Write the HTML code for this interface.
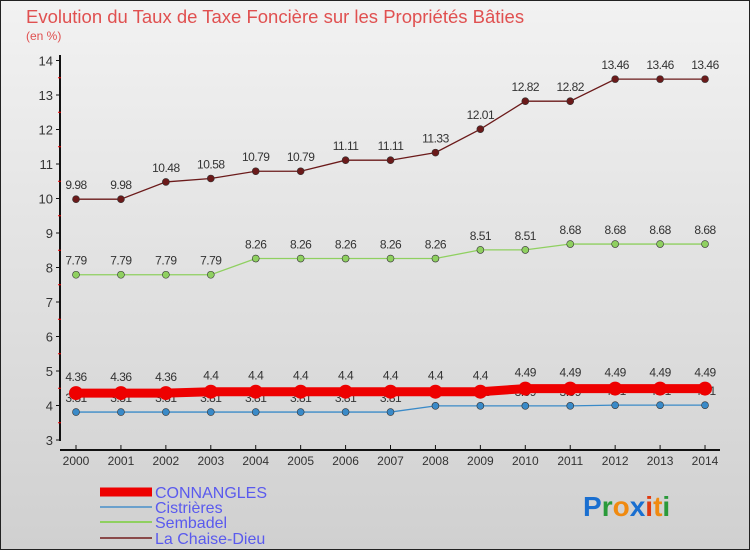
<!DOCTYPE html>
<html><head><meta charset="utf-8"><style>
body{margin:0}
svg{display:block;font-family:"Liberation Sans",sans-serif}
</style></head><body>
<svg id="c" width="750" height="550" viewBox="0 0 750 550">
<defs><linearGradient id="bg" x1="0" y1="0" x2="0" y2="1"><stop offset="0" stop-color="#f2f2f2"/><stop offset="1" stop-color="#d0d0d0"/></linearGradient></defs>
<rect x="0.5" y="0.5" width="749" height="549" fill="url(#bg)" stroke="#222"/>
<text x="26" y="23" font-size="18.5" fill="#e05050">Evolution du Taux de Taxe Foncière sur les Propriétés Bâties</text>
<text x="26" y="40" font-size="12" fill="#e05050">(en %)</text>
<g id="axes"></g>
<g id="series"></g>
<g id="legend"></g>
<text x="583" y="516" font-size="28" font-weight="bold"><tspan fill="#1a6fd0">P</tspan><tspan fill="#2a9a3a">r</tspan><tspan fill="#f08a10">o</tspan><tspan fill="#1a6fd0">x</tspan><tspan fill="#e03a10">i</tspan><tspan fill="#f08a10">t</tspan><tspan fill="#2a9a3a">i</tspan></text>
</svg>
<script>
const years=[2000,2001,2002,2003,2004,2005,2006,2007,2008,2009,2010,2011,2012,2013,2014];
const connangles=[4.36,4.36,4.36,4.4,4.4,4.4,4.4,4.4,4.4,4.4,4.49,4.49,4.49,4.49,4.49];
const cistrieres=[3.81,3.81,3.81,3.81,3.81,3.81,3.81,3.81,3.99,3.99,3.99,3.99,4.01,4.01,4.01];
const sembadel=[7.79,7.79,7.79,7.79,8.26,8.26,8.26,8.26,8.26,8.51,8.51,8.68,8.68,8.68,8.68];
const chaise=[9.98,9.98,10.48,10.58,10.79,10.79,11.11,11.11,11.33,12.01,12.82,12.82,13.46,13.46,13.46];
const yTicks=[3,4,5,6,7,8,9,10,11,12,13,14];
const NS="http://www.w3.org/2000/svg";
const X=i=>76+i*44.93, Y=v=>440-(v-3)*34.5;
function mk(tag,attrs,parent,txt){const e=document.createElementNS(NS,tag);for(const k in attrs)e.setAttribute(k,attrs[k]);if(txt!==undefined)e.textContent=txt;parent.appendChild(e);return e;}
const ax=document.getElementById('axes');
let e=mk('line',{x1:60,y1:55,x2:60,y2:441,stroke:'#111','stroke-width':2},ax);

e=mk('line',{x1:60,y1:450,x2:720,y2:450,stroke:'#111','stroke-width':2},ax);

yTicks.forEach(t=>{
  mk('line',{x1:56,y1:Y(t),x2:61,y2:Y(t),stroke:'#111'},ax);
  if(t<14)mk('line',{x1:58,y1:Y(t+0.5),x2:61,y2:Y(t+0.5),stroke:'#e00'},ax);
  e=mk('text',{x:53,y:Y(t)+5,'font-size':13,fill:'#333','text-anchor':'end'},ax,t);
  
});
years.forEach((y,i)=>{
  mk('line',{x1:X(i),y1:445,x2:X(i),y2:451,stroke:'#111'},ax);
  e=mk('text',{x:X(i),y:465,'font-size':12,fill:'#333','text-anchor':'middle'},ax,y);
  
});
const sg=document.getElementById('series');
function series(vals,color,w,r,name,dy){
  const g=mk('g',{},sg);
  
  mk('polyline',{points:vals.map((v,i)=>X(i)+','+Y(v)).join(' '),fill:'none',stroke:color,'stroke-width':w},g);
  vals.forEach((v,i)=>{
    const c=mk('circle',{cx:X(i),cy:Y(v),r:r,fill:color,stroke:'#333','stroke-width':r>5?0:0.6},g);
    
    const t=mk('text',{x:X(i),y:Y(v)+dy,'font-size':12,fill:'#333','text-anchor':'middle','letter-spacing':'-0.5'},g,v);
    
  });
}
series(chaise,'#6b1a1a',1.3,3.5,'la-chaise-dieu',-10);
series(sembadel,'#8fd060',1.3,3.5,'sembadel',-10);
series(cistrieres,'#3a8ac8',1.3,3.5,'cistrieres',-10);
series(connangles,'#ee0000',9,7,'connangles',-12);
const lg=document.getElementById('legend');
[['CONNANGLES','#ee0000',9,492],['Cistrières','#6aa0cc',2,507],['Sembadel','#8fd060',2,522],['La Chaise-Dieu','#8a4a4a',2,538]].forEach(([n,c,w,y])=>{
  const g=mk('g',{},lg);
  
  mk('line',{x1:100,y1:y,x2:152,y2:y,stroke:c,'stroke-width':w},g);
  mk('text',{x:155,y:y+6,'font-size':16,fill:'#5a5aee'},g,n);
});
</script>
</body></html>
